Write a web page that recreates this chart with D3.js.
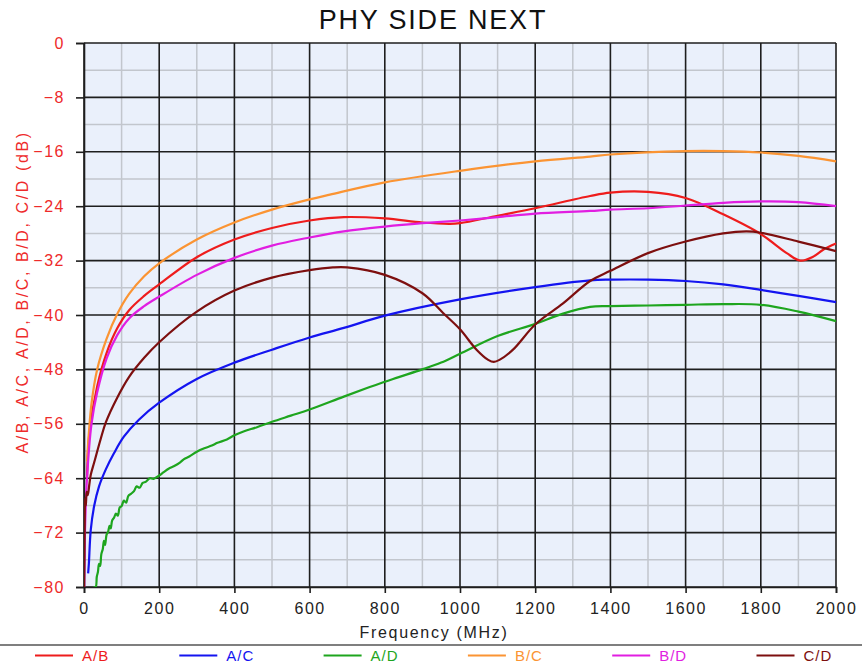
<!DOCTYPE html>
<html>
<head>
<meta charset="utf-8">
<script src="https://cdn.jsdelivr.net/npm/d3@7"></script>
<style>
  html, body { margin: 0; padding: 0; background: #ffffff; }
  svg { display: block; font-family: Arial, "Liberation Sans", sans-serif; }
</style>
</head>
<body>
<svg id="chart" width="862" height="667"></svg>
<script>
// Crosstalk between conductor pairs, dB versus frequency in MHz: [freq, dB]
const seriesNames = ["A/B", "A/C", "A/D", "B/C", "B/D", "C/D"];
const seriesColors = ["#ee1c1c", "#1414f0", "#1ea51e", "#fb9433", "#e11ee1", "#7d0f0f"];

const abData = [[8,-64],[15,-57],[35,-50.5],[60,-45.6],[88,-42.0],[120,-39.3],[160,-37.2],[200,-35.5],
  [300,-31.5],[400,-28.9],[500,-27.2],[600,-26.1],[691,-25.6],[800,-25.8],[900,-26.4],[973,-26.6],
  [1000,-26.5],[1100,-25.4],[1200,-24.3],[1346,-22.5],[1400,-22.0],[1500,-21.9],[1600,-22.8],
  [1700,-25.2],[1800,-28.1],[1869,-30.9],[1905,-32.0],[1940,-31.4],[1966,-30.4],[2000,-29.5]];

const acData = [[11,-78],[13,-76.5],[18,-71.6],[27,-68.1],[40,-65.2],[58,-62.7],[80,-60.3],[106,-57.9],
  [146,-55.4],[200,-52.9],[300,-49.4],[400,-47.0],[500,-45.1],[600,-43.3],[691,-41.9],[800,-40.1],
  [1000,-37.7],[1200,-35.9],[1346,-34.9],[1400,-34.8],[1500,-34.8],[1600,-35.0],[1700,-35.5],
  [1800,-36.3],[1900,-37.2],[2000,-38.1]];

const adData = [[25,-80],[31,-80],[34,-78.5],[37,-77.8],[40,-76.6],[43,-76.9],[46,-75.2],[50,-74.4],
  [53,-73.2],[56,-73.8],[60,-72.3],[64,-71.9],[68,-71.0],[71,-71.4],[75,-70.2],[80,-69.8],[85,-69.2],
  [90,-69.5],[95,-68.3],[100,-68.1],[106,-67.3],[112,-67.6],[118,-66.6],[125,-66.3],[133,-65.9],
  [140,-65.2],[148,-65.4],[156,-64.7],[165,-64.5],[175,-64.0],[185,-64.1],[200,-63.6],[212,-63.1],
  [225,-62.6],[240,-62.2],[255,-61.7],[266,-61.2],[280,-60.8],[300,-60.1],[320,-59.6],[340,-59.2],
  [355,-58.8],[380,-58.3],[400,-57.7],[426,-57.1],[460,-56.5],[500,-55.7],[550,-54.8],[600,-53.9],
  [691,-52.0],[760,-50.6],[822,-49.4],[900,-48.0],[950,-47.0],[1000,-45.7],[1100,-43.1],[1200,-41.3],
  [1274,-39.8],[1346,-38.8],[1400,-38.7],[1500,-38.6],[1600,-38.5],[1700,-38.4],[1800,-38.5],
  [1900,-39.5],[2000,-40.9]];

const bcData = [[8,-61.5],[13,-57.3],[20,-53],[35,-48],[60,-43.5],[88,-39.9],[120,-36.9],[160,-34.3],
  [200,-32.4],[300,-28.9],[400,-26.4],[500,-24.5],[600,-23.0],[654,-22.3],[800,-20.5],[1000,-18.8],
  [1200,-17.4],[1346,-16.7],[1400,-16.4],[1600,-15.9],[1700,-15.9],[1800,-16.1],[1900,-16.6],[2000,-17.4]];

const bdData = [[0.5,-80],[3,-71],[8,-64],[20,-56],[35,-51.4],[60,-46.4],[88,-43.0],[120,-40.5],
  [160,-38.7],[200,-37.3],[300,-34.1],[400,-31.6],[500,-29.8],[600,-28.6],[691,-27.7],[800,-27.0],
  [900,-26.5],[1000,-26.1],[1100,-25.6],[1200,-25.1],[1346,-24.7],[1400,-24.5],[1500,-24.3],
  [1600,-23.9],[1700,-23.5],[1800,-23.3],[1900,-23.4],[2000,-24.0]];

const cdData = [[0,-80],[1,-76],[2,-70],[3,-67],[5,-68],[7,-66],[10,-66.5],[14,-65],[18,-63.5],[27,-61.7],
  [44,-58.3],[58,-55.8],[88,-52.2],[120,-49.1],[160,-46.3],[200,-44.0],[300,-39.5],[400,-36.4],
  [500,-34.5],[600,-33.4],[662,-33.0],[700,-33.0],[800,-34.1],[900,-36.8],[955,-39.7],[1000,-42.1],
  [1044,-45.1],[1075,-46.6],[1090,-46.9],[1105,-46.6],[1141,-45.1],[1200,-41.4],[1274,-38.3],
  [1346,-35.0],[1400,-33.5],[1500,-30.9],[1600,-29.2],[1700,-28.0],[1762,-27.7],[1800,-27.9],
  [1900,-29.2],[2000,-30.6]];

const xTicks = [0, 200, 400, 600, 800, 1000, 1200, 1400, 1600, 1800, 2000];
const yTicks = [0, -8, -16, -24, -32, -40, -48, -56, -64, -72, -80];

const seriesData = [abData, acData, adData, bcData, bdData, cdData];

const svg = d3.select("#chart");
const W = 862;
const plot = { left: 84, right: 836, top: 43, bottom: 587 };

const x = d3.scaleLinear().domain([0, 2000]).range([plot.left, plot.right]);
const y = d3.scaleLinear().domain([-80, 0]).range([plot.bottom, plot.top]);

// Title
svg.append("text")
  .attr("x", W / 2 + 2).attr("y", 29)
  .attr("text-anchor", "middle")
  .attr("font-size", 27).attr("letter-spacing", "1.8px")
  .attr("fill", "#111")
  .text("PHY SIDE NEXT");

// Plot background
svg.append("rect")
  .attr("x", plot.left).attr("y", plot.top)
  .attr("width", plot.right - plot.left).attr("height", plot.bottom - plot.top)
  .attr("fill", "#eaf0fb");

// Minor grid
const minorX = d3.range(100, 2000, 200);
const minorY = d3.range(-76, 0, 8);
const grid = svg.append("g");
grid.selectAll("line.mx").data(minorX).join("line")
  .attr("x1", d => x(d)).attr("x2", d => x(d))
  .attr("y1", plot.top).attr("y2", plot.bottom)
  .attr("stroke", "#c2c6cd").attr("stroke-width", 1.5);
grid.selectAll("line.my").data(minorY).join("line")
  .attr("y1", d => y(d)).attr("y2", d => y(d))
  .attr("x1", plot.left).attr("x2", plot.right)
  .attr("stroke", "#c2c6cd").attr("stroke-width", 1.5);

// Major grid
grid.selectAll("line.Mx").data(xTicks).join("line")
  .attr("x1", d => x(d)).attr("x2", d => x(d))
  .attr("y1", plot.top).attr("y2", plot.bottom)
  .attr("stroke", "#1e1e1e").attr("stroke-width", 1.6);
grid.selectAll("line.My").data(yTicks).join("line")
  .attr("y1", d => y(d)).attr("y2", d => y(d))
  .attr("x1", plot.left).attr("x2", plot.right)
  .attr("stroke", "#1e1e1e").attr("stroke-width", 1.6);

// Axes
const yAxis = svg.append("g")
  .attr("transform", `translate(${plot.left},0)`)
  .call(d3.axisLeft(y).tickValues(yTicks).tickSize(8).tickPadding(11).tickFormat(d3.format("d")));
yAxis.select(".domain").attr("stroke", "#1e1e1e").attr("stroke-width", 1.6);
yAxis.selectAll(".tick line").attr("stroke", "#1e1e1e").attr("stroke-width", 1.6);
yAxis.selectAll(".tick text")
  .attr("font-size", 16).attr("letter-spacing", "1.5px")
  .attr("fill", "#ee2a2a").attr("font-family", "Arial, 'Liberation Sans', sans-serif");

const xAxis = svg.append("g")
  .attr("transform", `translate(0,${plot.bottom})`)
  .call(d3.axisBottom(x).tickValues(xTicks).tickSize(6).tickPadding(10).tickFormat(d3.format("d")));
xAxis.select(".domain").attr("stroke", "#1e1e1e").attr("stroke-width", 1.6);
xAxis.selectAll(".tick line").attr("stroke", "#1e1e1e").attr("stroke-width", 1.6);
xAxis.selectAll(".tick text")
  .attr("font-size", 16).attr("letter-spacing", "1.5px")
  .attr("fill", "#222").attr("font-family", "Arial, 'Liberation Sans', sans-serif");

// Axis titles
svg.append("text")
  .attr("x", W / 2 + 3).attr("y", 638)
  .attr("text-anchor", "middle")
  .attr("font-size", 16).attr("letter-spacing", "1.7px")
  .attr("fill", "#222")
  .text("Frequency (MHz)");

svg.append("text")
  .attr("transform", "translate(28,292) rotate(-90)")
  .attr("text-anchor", "middle")
  .attr("font-size", 16).attr("letter-spacing", "2.6px")
  .attr("fill", "#ee2a2a")
  .text("A/B, A/C, A/D, B/C, B/D, C/D (dB)");

// Series
svg.append("clipPath").attr("id", "plotClip")
  .append("rect")
  .attr("x", plot.left).attr("y", plot.top - 1)
  .attr("width", plot.right - plot.left + 1).attr("height", plot.bottom - plot.top + 1);

const line = d3.line()
  .x(d => x(d[0]))
  .y(d => y(d[1]))
  .curve(d3.curveCatmullRom.alpha(0.5));

const lines = svg.append("g").attr("clip-path", "url(#plotClip)");
seriesData.forEach((data, i) => {
  lines.append("path")
    .datum(data)
    .attr("fill", "none")
    .attr("stroke", seriesColors[i])
    .attr("stroke-width", 2.2)
    .attr("stroke-linejoin", "round")
    .attr("d", line);
});

// Legend
svg.append("line")
  .attr("x1", 0).attr("x2", W)
  .attr("y1", 645).attr("y2", 645)
  .attr("stroke", "#555").attr("stroke-width", 1.5);

const legend = svg.append("g");
seriesNames.forEach((name, i) => {
  const x0 = 35 + i * 144.3;
  legend.append("line")
    .attr("x1", x0).attr("x2", x0 + 38)
    .attr("y1", 655.5).attr("y2", 655.5)
    .attr("stroke", seriesColors[i]).attr("stroke-width", 2.2);
  legend.append("text")
    .attr("x", x0 + 47).attr("y", 661)
    .attr("font-size", 15).attr("letter-spacing", "1px")
    .attr("fill", seriesColors[i])
    .text(name);
});
</script>
</body>
</html>
